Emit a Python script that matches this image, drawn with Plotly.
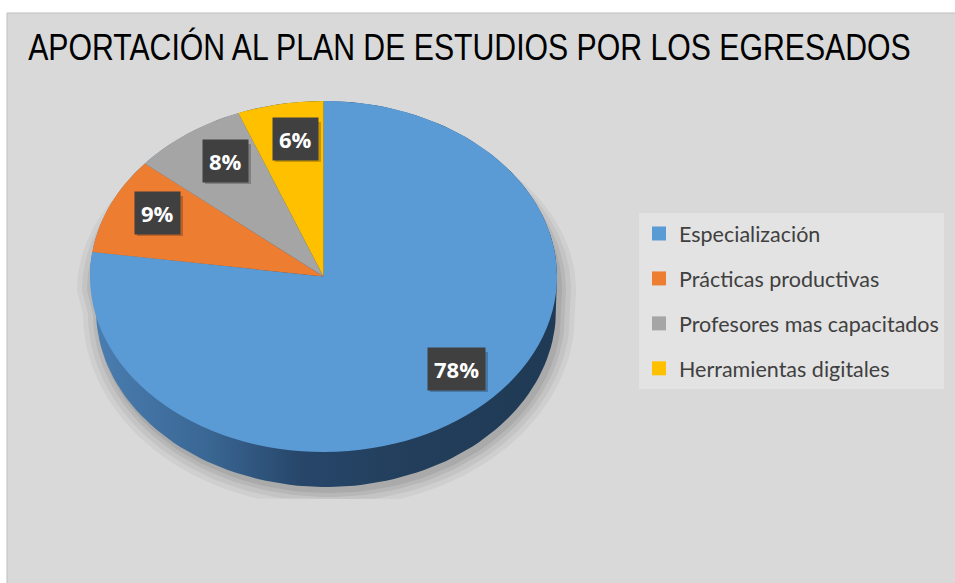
import numpy as np
import plotly.graph_objects as go

# ---- data ----
categories = ["Especialización", "Prácticas productivas", "Profesores mas capacitados", "Herramientas digitales"]
values = [78, 9, 8, 6]
colors = ["#5B9BD5", "#ED7D31", "#A5A5A5", "#FFC000"]
title_text = "APORTACIÓN AL PLAN DE ESTUDIOS POR LOS EGRESADOS"

W, H = 955, 583

def px(x):
    return x / W

def py(y):
    return 1 - y / H

# 3D pie geometry (pixels)
TCX, TCY, TRX, TRY = 323.5, 276.5, 233.5, 175.5   # top face ellipse
BCX, BCY, BRX, BRY = 326.0, 310.0, 230.0, 177.0   # bottom (base) ellipse
SQUASH = TRY / TRX

def hull(grow=0.0, dx=0.0, dy=0.0, top_dy=0.0, clip=None):
    t1 = np.linspace(np.pi, 0, 90)           # upper arc of top ellipse
    t2 = np.linspace(0, -np.pi, 90)          # lower arc of base ellipse
    xs = np.concatenate([TCX + dx + (TRX + grow) * np.cos(t1), BCX + dx + (BRX + grow) * np.cos(t2)])
    ys = np.concatenate([TCY + top_dy - TRY * np.sin(t1), BCY + dy - (BRY + grow) * np.sin(t2)])
    if clip is not None:
        ys = np.minimum(ys, clip)
    return list(np.append(xs, xs[0])), list(np.append(ys, ys[0]))

fig = go.Figure()

# soft shadow around the base
for g, op in [(16, 0.07), (11, 0.09), (6, 0.12), (2, 0.14)]:
    hx, hy = hull(g, dx=3, dy=4, top_dy=14, clip=499)
    fig.add_trace(go.Scatter(x=hx, y=hy, mode="lines", fill="toself", line=dict(width=0),
                             fillcolor="rgba(90,90,90,%.2f)" % op, hoverinfo="skip", showlegend=False))
# side of the 3D pie
hx, hy = hull()
fig.add_trace(go.Scatter(
    x=hx, y=hy, mode="lines", fill="toself", line=dict(width=0), hoverinfo="skip", showlegend=False,
    fillgradient=dict(type="horizontal",
                      colorscale=[[0, "#4B7EB2"], [0.25, "#3A6794"], [0.45, "#27466A"], [0.7, "#223E5A"], [1, "#203A55"]]),
))

# top face
fig.add_trace(go.Pie(
    labels=categories, values=values, sort=False, direction="clockwise", rotation=0,
    marker=dict(colors=colors, line=dict(width=0)),
    textinfo="none", hoverinfo="label+percent", showlegend=False,
    domain=dict(x=[px(TCX - TRX), px(TCX + TRX)], y=[py(TCY + TRX), py(TCY - TRX)]),
))

# legend entries
for c, col in zip(categories, colors):
    fig.add_trace(go.Scatter(
        x=[None], y=[None], mode="markers", name=c, legendgroup=c,
        marker=dict(symbol="square", size=14, color=col),
    ))

shapes = [dict(type="rect", xref="paper", yref="paper", layer="below",
               x0=px(7), x1=px(960), y0=py(13), y1=py(590),
               fillcolor="#D9D9D9", line=dict(color="#BFBFBF", width=1))]

label_pos = [(456, 369), (157, 213), (225, 161), (295, 139)]
annotations = []
for v, (lx, ly) in zip(values, label_pos):
    hw = 29 if v >= 10 else 23
    # drop shadow behind the label box
    shapes.append(dict(type="rect", xref="x", yref="y", layer="above",
                       x0=lx - hw + 3, x1=lx + hw + 3, y0=ly - 20 + 3, y1=ly + 20 + 3,
                       fillcolor="rgba(0,0,0,0.22)", line=dict(width=0)))
    annotations.append(dict(
        x=lx, y=ly, xref="x", yref="y", showarrow=False,
        text=f"<b>{v}%</b>", font=dict(family="Open Sans", size=22, color="white"),
        bgcolor="#404040", borderpad=6, xanchor="center", yanchor="middle",
    ))
annotations.append(dict(
    x=469.5, y=47, xref="x", yref="y", showarrow=False,
    text=title_text, xanchor="center", yanchor="middle",
    font=dict(family="Liberation Sans, Arial", size=37, color="#000000"),
))

fig.update_layout(
    width=W, height=H, autosize=False,
    margin=dict(l=0, r=0, t=0, b=0),
    paper_bgcolor="white", plot_bgcolor="rgba(0,0,0,0)",
    xaxis=dict(visible=False, range=[0, W], domain=[0, 1], fixedrange=True),
    yaxis=dict(visible=False, range=[H, 0], domain=[0, 1], fixedrange=True),
    shapes=shapes, annotations=annotations,
    legend=dict(x=px(639), y=py(213), xanchor="left", yanchor="top",
                bgcolor="#E3E3E3", borderwidth=0, tracegroupgap=14,
                font=dict(family="Lato", size=21.5, color="#404040"),
                itemwidth=30),
)

post = """
document.body.style.margin = '0';
var gd = document.getElementById('{plot_id}');
var CY = %s, SQ = %s;
function fix() {
  var gs = gd.querySelectorAll('.pielayer .trace');
  gs.forEach(function(g) {
    g.setAttribute('transform', 'translate(0,' + CY + ') scale(1,' + SQ + ') translate(0,' + (-CY) + ')');
  });
  var anns = gd.querySelectorAll('.annotation');
  var t = anns[anns.length - 1].querySelector('text');
  if (t) {
    t.style.transformBox = 'fill-box';
    t.style.transformOrigin = 'center';
    t.style.transform = 'scaleX(0.817)';
  }
}
fix();
gd.on('plotly_afterplot', fix);
setTimeout(fix, 50);
""" % (TCY, SQUASH)

fig.write_html("out.html", post_script=post, config={"displayModeBar": False})
